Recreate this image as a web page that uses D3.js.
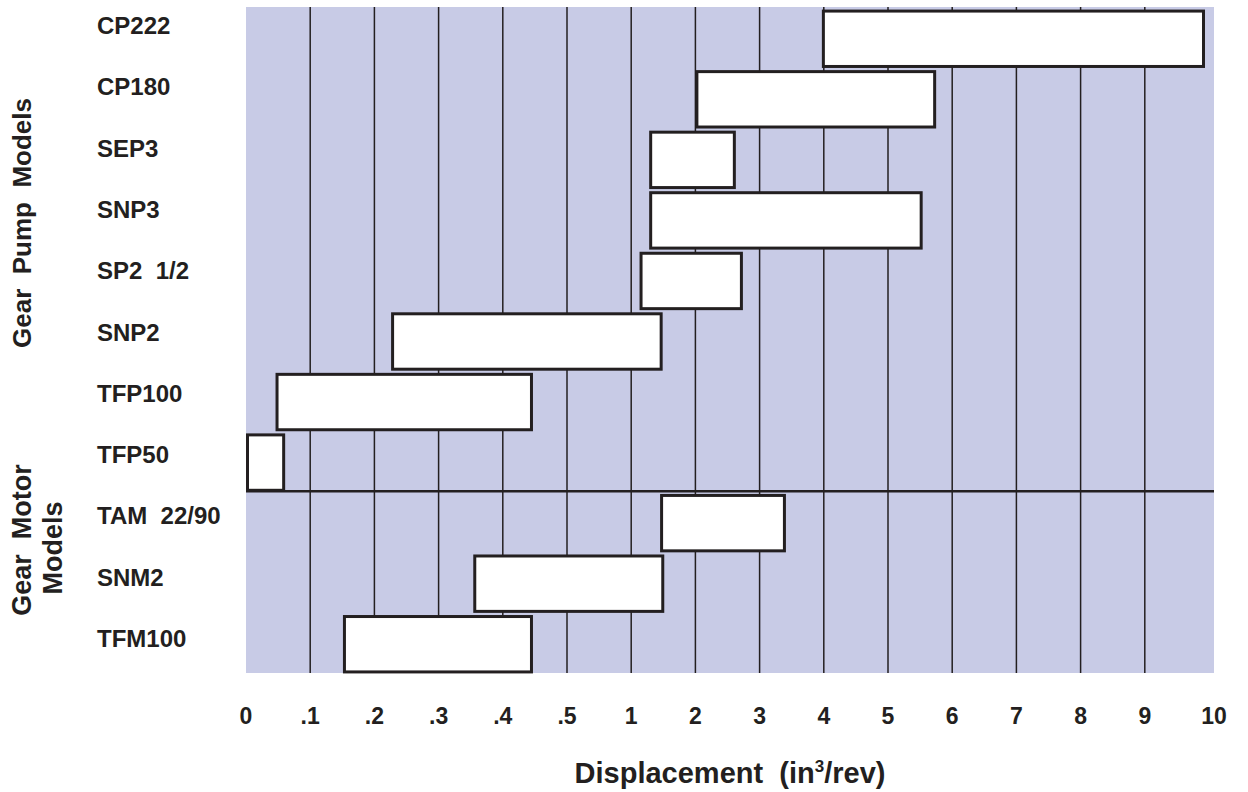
<!DOCTYPE html>
<html>
<head>
<meta charset="utf-8">
<script src="https://cdn.jsdelivr.net/npm/d3@7"></script>
<style>
  html, body { margin: 0; padding: 0; background: #ffffff; }
  svg { display: block; }
  text { font-family: "Liberation Sans", Arial, Helvetica, sans-serif; font-weight: bold; fill: #231f20; }
</style>
</head>
<body>
<svg id="chart" width="1248" height="792"></svg>
<script>
// ---- data ----
const models = ["CP222", "CP180", "SEP3", "SNP3", "SP2 1/2", "SNP2", "TFP100", "TFP50", "TAM 22/90", "SNM2", "TFM100"];
const groups = ["pump", "pump", "pump", "pump", "pump", "pump", "pump", "pump", "motor", "motor", "motor"];
const minDisp = [3.97, 2.0, 1.28, 1.28, 1.13, 0.226, 0.046, 0.0, 1.45, 0.354, 0.151];
const maxDisp = [9.87, 5.75, 2.63, 5.54, 2.74, 1.49, 0.447, 0.061, 3.41, 1.515, 0.447];
const tickValues = [0, 0.1, 0.2, 0.3, 0.4, 0.5, 1, 2, 3, 4, 5, 6, 7, 8, 9, 10];
const tickLabels = ["0", ".1", ".2", ".3", ".4", ".5", "1", "2", "3", "4", "5", "6", "7", "8", "9", "10"];

// ---- layout ----
const plotL = 246, plotR = 1214, plotT = 7, plotB = 673;
const svg = d3.select("#chart");

const step = 64.2;
const x = d3.scaleLinear()
  .domain(tickValues)
  .range(tickValues.map((d, i) => i === tickValues.length - 1 ? plotR : plotL + i * step));

const y = d3.scaleBand()
  .domain(models)
  .range([plotT, plotB])
  .paddingInner(0.085)
  .paddingOuter(0.0425);

const labelY = d3.scalePoint()
  .domain(models)
  .range([34, 647]);

// background
svg.append("rect")
  .attr("x", plotL).attr("y", plotT)
  .attr("width", plotR - plotL).attr("height", plotB - plotT)
  .attr("fill", "#c8cbe6");

// grid lines
svg.append("g").selectAll("line")
  .data(tickValues.slice(1, -1))
  .join("line")
  .attr("x1", d => x(d)).attr("x2", d => x(d))
  .attr("y1", plotT).attr("y2", plotB)
  .attr("stroke", "#231f20").attr("stroke-width", 1.5);

// separator between pump and motor groups
const firstMotor = models[groups.indexOf("motor")];
const lastPump = models[groups.lastIndexOf("pump")];
const sepY = (y(lastPump) + y.bandwidth() + y(firstMotor)) / 2;
svg.append("line")
  .attr("x1", plotL).attr("x2", plotR)
  .attr("y1", sepY).attr("y2", sepY)
  .attr("stroke", "#231f20").attr("stroke-width", 2.5);

// bars
svg.append("g").selectAll("rect")
  .data(models)
  .join("rect")
  .attr("x", (d, i) => x(minDisp[i]) + 1.5)
  .attr("y", d => y(d) + 1.5)
  .attr("width", (d, i) => x(maxDisp[i]) - x(minDisp[i]) - 3)
  .attr("height", y.bandwidth())
  .attr("fill", "#ffffff")
  .attr("stroke", "#231f20")
  .attr("stroke-width", 3);

// y labels (model names)
svg.append("g").selectAll("text")
  .data(models)
  .join("text")
  .attr("x", 97)
  .attr("y", d => labelY(d))
  .attr("font-size", 24)
  .text(d => d.replace(" ", "\u00a0\u00a0"));

// x tick labels
svg.append("g").selectAll("text")
  .data(tickValues)
  .join("text")
  .attr("x", d => x(d))
  .attr("y", 724)
  .attr("text-anchor", "middle")
  .attr("font-size", 23)
  .text((d, i) => tickLabels[i]);

// x axis title
const title = svg.append("text")
  .attr("x", (plotL + plotR) / 2)
  .attr("y", 783)
  .attr("text-anchor", "middle")
  .attr("font-size", 29);
title.append("tspan").text("Displacement\u00a0\u00a0(in");
title.append("tspan").attr("font-size", 17).attr("dy", -11).text("3");
title.append("tspan").attr("dy", 11).text("/rev)");

// group titles
svg.append("text")
  .attr("transform", "translate(31,223) rotate(-90)")
  .attr("text-anchor", "middle")
  .attr("font-size", 26)
  .text("Gear\u00a0\u00a0Pump\u00a0\u00a0Models");

svg.append("text")
  .attr("transform", "translate(31,540) rotate(-90)")
  .attr("text-anchor", "middle")
  .attr("font-size", 27)
  .text("Gear\u00a0\u00a0Motor");
svg.append("text")
  .attr("transform", "translate(62,548) rotate(-90)")
  .attr("text-anchor", "middle")
  .attr("font-size", 27)
  .text("Models");
</script>
</body>
</html>
